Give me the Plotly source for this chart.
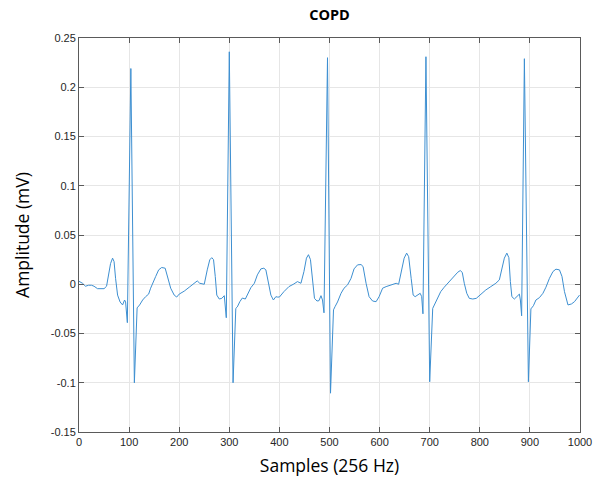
import plotly.graph_objects as go

samples = [0, 7, 13, 19, 25, 30, 37, 50, 55, 60, 63, 67, 70, 73, 77, 82, 87, 91, 93, 96.5,
           103.5, 110.5, 116, 121, 127, 133, 139, 143, 149, 153, 159, 165, 172, 176.5, 183, 190,
           195, 200, 210, 220, 230, 236, 241, 250, 256, 261, 265, 268.5, 272, 275, 280, 285,
           290, 294, 300, 307.5, 313, 316, 321, 326, 332, 336, 343, 350, 356, 363, 369, 373,
           378, 383, 388, 393, 396, 400, 409, 419, 429, 436, 443, 449, 454, 458, 462, 466,
           470, 475, 479, 483, 486, 489, 496, 502, 508, 511, 516, 523, 529, 536, 543, 549,
           556, 563, 567, 573, 579, 586, 593, 599, 606, 613, 619, 626, 633, 638, 643, 649,
           654, 658, 663, 667, 671, 676, 681, 684, 686.5, 692.5, 700, 706, 709, 716, 722, 729,
           736, 742, 749, 756, 761, 765, 769, 774, 779, 786, 793, 802, 812, 822, 832, 839,
           844, 849, 854, 858, 861, 864, 869, 874, 879, 881, 883.5, 889, 897, 902, 907, 912,
           919, 926, 932, 939, 946, 952, 959, 964, 969, 976, 983, 989, 999]

amplitude = [0.003, 0.001, -0.002, -0.001, -0.001, -0.002, -0.0045, -0.0045, -0.002, 0.013,
             0.021, 0.0265, 0.023, 0.006, -0.011, -0.018, -0.021, -0.016, -0.018, -0.039,
             0.219, -0.100, -0.024, -0.021, -0.016, -0.0126, -0.010, -0.004, 0.0044, 0.0078,
             0.0146, 0.017, 0.0163, 0.0078, -0.004, -0.011, -0.013, -0.010, -0.007, -0.003,
             0.001, 0.0034, 0.001, 0.000, 0.0146, 0.0248, 0.027, 0.025, 0.0078, -0.011, -0.015,
             -0.0143, -0.0116, -0.034, 0.236, -0.100, -0.0245, -0.023, -0.0177, -0.014, -0.015,
             -0.011, -0.0035, 0.001, 0.0095, 0.0156, 0.0163, 0.0146, 0.0027, -0.011, -0.016,
             -0.0126, -0.013, -0.013, -0.0075, -0.0024, 0.0003, 0.0027, 0.001, 0.0129, 0.0265,
             0.030, 0.025, 0.0027, -0.0143, -0.017, -0.0167, -0.0116, -0.016, -0.029, 0.230,
             -0.1106, -0.026, -0.0228, -0.018, -0.0092, -0.004, -0.0007, 0.006, 0.0156, 0.0197,
             0.020, 0.018, 0.001, -0.0126, -0.017, -0.0177, -0.0126, -0.004, -0.0024, -0.0014,
             0.000, 0.001, 0.000, 0.0112, 0.0265, 0.0316, 0.028, 0.006, -0.011, -0.0126, -0.011,
             -0.0092, -0.0126, -0.030, 0.231, -0.099, -0.0245, -0.021, -0.0143, -0.0075, -0.003,
             0.001, 0.0044, 0.0078, 0.0122, 0.0139, 0.012, 0.001, -0.0092, -0.0143, -0.015,
             -0.0143, -0.010, -0.0058, -0.0024, 0.001, 0.0044, 0.0163, 0.0265, 0.0316, 0.027,
             0.0027, -0.0126, -0.015, -0.0126, -0.010, -0.016, -0.032, 0.229, -0.099, -0.025,
             -0.0218, -0.016, -0.0136, -0.0092, -0.003, 0.006, 0.0129, 0.0153, 0.0146, 0.008,
             -0.0075, -0.021, -0.020, -0.0177, -0.011]

x_ticks = [0, 100, 200, 300, 400, 500, 600, 700, 800, 900, 1000]
y_ticks = [-0.15, -0.1, -0.05, 0, 0.05, 0.1, 0.15, 0.2, 0.25]
y_tick_labels = ["-0.15", "-0.1", "-0.05", "0", "0.05", "0.1", "0.15", "0.2", "0.25"]

fig = go.Figure()
fig.add_trace(go.Scatter(x=samples, y=amplitude, mode="lines",
                         line=dict(color="#3d8fd1", width=1), showlegend=False))

axis_common = dict(
    showline=True, linecolor="#5a5a5a", linewidth=1, mirror="ticks",
    ticks="inside", ticklen=5, tickcolor="#5a5a5a", tickwidth=1,
    showgrid=True, gridcolor="#e6e6e6", gridwidth=1, zeroline=False,
    tickfont=dict(family="Liberation Sans, Arial", size=11, color="#262626"),
)

fig.update_layout(
    width=604, height=483,
    margin=dict(l=79, r=24, t=38, b=51),
    paper_bgcolor="white", plot_bgcolor="white",
    title=dict(text="<b>COPD</b>", x=(79 + 580) / 2 / 604, xanchor="center",
               y=1 - 15 / 483, yanchor="middle", yref="container",
               font=dict(family="Open Sans", size=14.5, color="black")),
    xaxis=dict(range=[0, 1000], tickvals=x_ticks, ticktext=[str(v) for v in x_ticks],
               title=dict(text="Samples (256 Hz)", standoff=12,
                          font=dict(family="Open Sans", size=17.5, color="black")),
               **axis_common),
    yaxis=dict(range=[-0.15, 0.25], tickvals=y_ticks, ticktext=y_tick_labels,
               title=dict(text="Amplitude (mV)", standoff=16,
                          font=dict(family="Open Sans", size=17.5, color="black")),
               **axis_common),
)

fig.write_html("out.html")
